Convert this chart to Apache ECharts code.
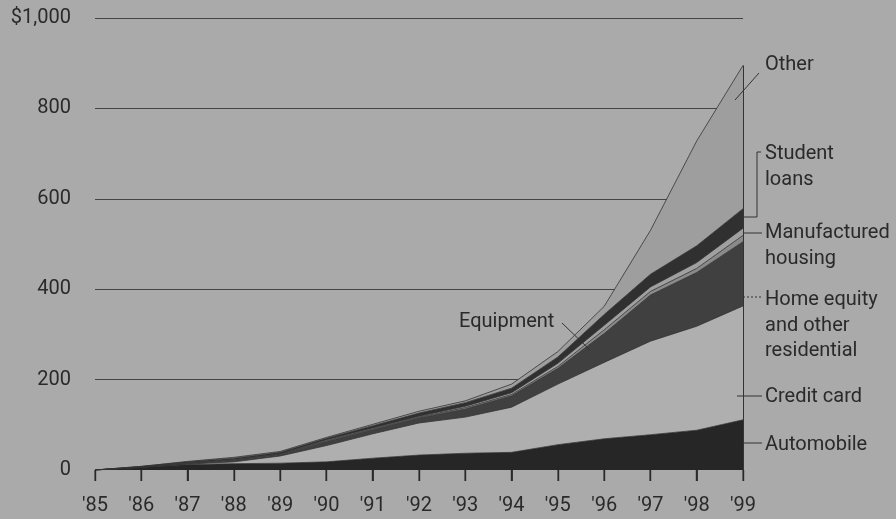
<!DOCTYPE html>
<html>
<head>
<meta charset="utf-8">
<script src="https://cdn.jsdelivr.net/npm/echarts@6/dist/echarts.min.js"></script>
<style>
html, body { margin: 0; padding: 0; background: #aaaaaa; }
#chart { width: 896px; height: 519px; }
</style>
</head>
<body>
<div id="chart"></div>
<script>
// years on the x axis
const years = ["'85", "'86", "'87", "'88", "'89", "'90", "'91", "'92", "'93", "'94", "'95", "'96", "'97", "'98", "'99"];

// outstanding amounts per layer, billions of dollars (bottom to top)
const automobile   = [0, 6, 12, 14, 15, 18, 26, 33, 37, 39, 56, 69, 78, 88, 111];
const creditCard   = [0, 0, 1, 4, 16, 36, 54, 71, 80, 100, 134, 169, 207, 230, 252];
const homeEquity   = [0, 0, 1, 3, 3, 9, 9, 11, 18, 25, 35, 64, 102, 119, 142];
const equipment    = [0, 1, 1, 1, 1, 2, 2, 2, 3, 3, 4, 8, 8, 9, 14];
const manufactured = [0, 0, 1, 1, 1, 2, 2, 2, 3, 4, 7, 10, 10, 13, 16];
const studentLoans = [0, 1, 2, 3, 3, 3, 5, 7, 8, 10, 14, 24, 28, 37, 43];
const other        = [0, 0, 1, 2, 2, 2, 3, 4, 4, 9, 12, 18, 97, 232, 317];

const yTicks = [0, 200, 400, 600, 800, 1000];

const last = years.length - 1;
const lastTotal = [automobile, creditCard, homeEquity, equipment, manufactured, studentLoans, other]
  .reduce((s, arr) => s + arr[last], 0);

const FONT = 'Roboto, "Noto Sans", sans-serif';
const INK = '#2a2a2a';
const W = 896, H = 519;
const GRID = { left: 95, right: 153, top: 18, bottom: 49 };

function layer(name, data, color) {
  return {
    name: name,
    type: 'line',
    stack: 'total',
    data: data,
    symbol: 'none',
    lineStyle: { width: 0.8, color: '#333' },
    areaStyle: { color: color, opacity: 1 }
  };
}

function label(text, x, y) {
  return { type: 'text', x: x, y: y, silent: true,
    style: { text: text, font: '20px ' + FONT, fill: INK, textVerticalAlign: 'middle' } };
}
function lead(x1, y1, x2, y2, dashed) {
  return { type: 'line', silent: true, z: 10, shape: { x1: x1, y1: y1, x2: x2, y2: y2 },
    style: { stroke: '#333', lineWidth: 1, lineDash: dashed ? [2, 2] : null } };
}

const otherSeries = layer('Other', other, '#9e9e9e');
otherSeries.markLine = {
  silent: true,
  symbol: 'none',
  label: { show: false },
  lineStyle: { color: '#333', width: 1, type: 'solid' },
  data: [[{ coord: [years[last], 0] }, { coord: [years[last], lastTotal] }]]
};

// small tick marks hanging under the baseline, one per year
const plotW = W - GRID.left - GRID.right;
const baseY = H - GRID.bottom;
const ticks = years.map((yr, i) => {
  const x = Math.round(GRID.left + i * plotW / (years.length - 1));
  return { type: 'rect', silent: true, z: 100,
    shape: { x: x - 0.5, y: baseY, width: 1.4, height: 11 },
    style: { fill: '#2a2a2a' } };
});

const notes = [
  label('Other', 765, 65),
  lead(735, 100, 759, 73),
  label('Student', 765, 154),
  label('loans', 765, 180),
  { type: 'polyline', silent: true,
    shape: { points: [[743, 217], [757, 217], [757, 152], [761, 152]] },
    style: { stroke: '#333', lineWidth: 1, fill: null } },
  label('Manufactured', 765, 233),
  label('housing', 765, 259),
  lead(743, 233, 762, 233),
  label('Home equity', 765, 300),
  label('and other', 765, 326),
  label('residential', 765, 351),
  lead(743, 297, 762, 297, true),
  label('Credit card', 765, 397),
  lead(737, 396, 762, 396),
  label('Automobile', 765, 445),
  lead(743, 443, 762, 443),
  label('Equipment', 459, 322),
  lead(562, 323, 590, 350)
];

const chart = echarts.init(document.getElementById('chart'));
chart.setOption({
  backgroundColor: '#aaaaaa',
  animation: false,
  grid: Object.assign({ containLabel: false, outerBoundsMode: 'none' }, GRID),
  xAxis: {
    type: 'category',
    data: years,
    boundaryGap: false,
    axisLine: { show: false },
    axisTick: { show: true, length: 11, lineStyle: { color: '#2a2a2a', width: 1.4 } },
    axisLabel: { color: INK, fontFamily: FONT, fontSize: 20, margin: 26 }
  },
  yAxis: {
    type: 'value',
    min: yTicks[0],
    max: yTicks[yTicks.length - 1],
    interval: 200,
    axisLine: { show: false },
    axisTick: { show: false },
    axisLabel: {
      color: INK, fontFamily: FONT, fontSize: 20, margin: 24,
      formatter: v => v === 1000 ? '$1,000' : String(v)
    },
    splitLine: { show: true, showMinLine: false, lineStyle: { color: '#444', width: 1 } }
  },
  series: [
    layer('Automobile', automobile, '#262626'),
    layer('Credit card', creditCard, '#afafaf'),
    layer('Home equity and other residential', homeEquity, '#404040'),
    layer('Equipment', equipment, '#8a8a8a'),
    layer('Manufactured housing', manufactured, '#a0a0a0'),
    layer('Student loans', studentLoans, '#303030'),
    otherSeries
  ],
  graphic: notes.concat(ticks)
});
</script>
</body>
</html>
